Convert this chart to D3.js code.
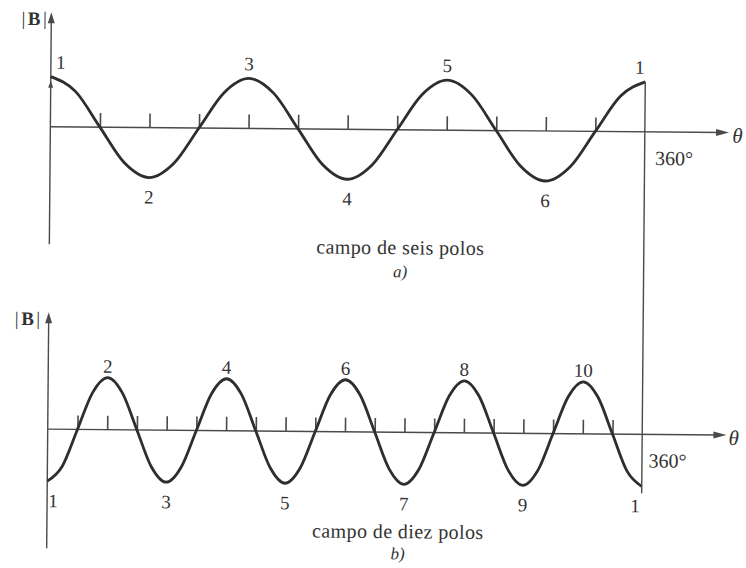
<!DOCTYPE html>
<html>
<head>
<meta charset="utf-8">
<script src="https://cdn.jsdelivr.net/npm/d3@7/dist/d3.min.js"></script>
<style>
  html, body { margin: 0; padding: 0; background: #fff; }
  svg { display: block; }
  text { font-family: "Liberation Serif", "DejaVu Serif", serif; fill: #333; }
</style>
</head>
<body>
<svg id="chart" width="746" height="568"></svg>
<script>
// Air-gap flux density |B| around the stator, 0°..360°

// a) six-pole field: samples every 15°, normalised to the pole peak
const thetaSix = [0, 15, 30, 45, 60, 75, 90, 105, 120, 135, 150, 165, 180,
                  195, 210, 225, 240, 255, 270, 285, 300, 315, 330, 345, 360];
const fieldSix = [1, 0.71, 0, -0.71, -1, -0.71, 0, 0.71, 1, 0.71, 0, -0.71, -1,
                  -0.71, 0, 0.71, 1, 0.71, 0, -0.71, -1, -0.71, 0, 0.71, 1];
const poleAnglesSix = [0, 60, 120, 180, 240, 300, 360];
const poleLabelsSix = ["1", "2", "3", "4", "5", "6", "1"];
const tickAnglesSix = [30, 60, 90, 120, 150, 180, 210, 240, 270, 300, 330];
const captionSix = ["campo de seis polos", "a)"];

// b) ten-pole field: samples every 9°
const thetaTen = [0, 9, 18, 27, 36, 45, 54, 63, 72, 81, 90, 99, 108, 117, 126, 135,
                  144, 153, 162, 171, 180, 189, 198, 207, 216, 225, 234, 243, 252,
                  261, 270, 279, 288, 297, 306, 315, 324, 333, 342, 351, 360];
const fieldTen = [-1, -0.71, 0, 0.71, 1, 0.71, 0, -0.71, -1, -0.71, 0, 0.71, 1, 0.71, 0, -0.71,
                  -1, -0.71, 0, 0.71, 1, 0.71, 0, -0.71, -1, -0.71, 0, 0.71, 1,
                  0.71, 0, -0.71, -1, -0.71, 0, 0.71, 1, 0.71, 0, -0.71, -1];
const poleAnglesTen = [0, 36, 72, 108, 144, 180, 216, 252, 288, 324, 360];
const poleLabelsTen = ["1", "2", "3", "4", "5", "6", "7", "8", "9", "10", "1"];
const tickAnglesTen = [18, 36, 54, 72, 90, 108, 126, 144, 162, 180, 198, 216,
                       234, 252, 270, 288, 306, 324, 342];
const captionTen = ["campo de diez polos", "b)"];

const fullTurn = 360;
const fullTurnLabel = "360°";
const axisReach = 411;   // horizontal axis runs a little past 360°

const svg = d3.select("#chart");
// the printed figure sits very slightly turned on the page
const root = svg.append("g").attr("transform", "rotate(0.5,373,284)");

const ink = "#2e2e2e";
const axisInk = "#4a4a4a";

const x = d3.scaleLinear().domain([0, fullTurn]).range([49, 643.5]);

// arrowhead helper
function arrowHead(g, tipX, tipY, dir, len, half) {
  let pts;
  if (dir === "right") pts = [[tipX, tipY], [tipX - len, tipY - half], [tipX - len, tipY + half]];
  else pts = [[tipX, tipY], [tipX - half, tipY + len], [tipX + half, tipY + len]];
  g.append("path").attr("d", d3.line()(pts) + "Z").attr("fill", axisInk).attr("stroke", "none");
}

function panel(cfg) {
  const g = root.append("g");
  const y = d3.scaleLinear().domain([-1, 1]).range([cfg.yLow, cfg.yHigh]);
  const y0 = y(0);

  // vertical |B| axis
  g.append("line").attr("x1", x(0)).attr("x2", x(0))
    .attr("y1", cfg.vTop + 4).attr("y2", cfg.vBottom)
    .attr("stroke", axisInk).attr("stroke-width", 1.4);
  arrowHead(g, x(0), cfg.vTop, "up", 11, 3.5);

  // horizontal θ axis
  g.append("line").attr("x1", x(0)).attr("x2", x(axisReach) - 6)
    .attr("y1", y0).attr("y2", y0)
    .attr("stroke", axisInk).attr("stroke-width", 1.4);
  arrowHead(g, x(axisReach), y0, "right", 13, 3.5);

  // ticks along the θ axis
  const ax = d3.axisTop(x).tickValues(cfg.ticks).tickSize(14).tickFormat("");
  const axG = g.append("g").attr("transform", `translate(0,${y0})`).call(ax);
  axG.select(".domain").remove();
  axG.selectAll(".tick line").attr("stroke", axisInk).attr("stroke-width", 1.6);

  // flux density wave
  const pts = cfg.theta.map((t, i) => [t, cfg.field[i]]);
  g.append("path")
    .attr("d", d3.line().x(d => x(d[0])).y(d => y(d[1])).curve(d3.curveMonotoneX)(pts))
    .attr("fill", "none").attr("stroke", ink).attr("stroke-width", 2.8)
    .attr("stroke-linejoin", "round");

  // pole numbers
  g.selectAll("text.pole").data(cfg.poles).join("text")
    .attr("class", "pole")
    .attr("font-size", 19)
    .attr("text-anchor", "middle")
    .attr("x", (d, i) => x(d) + (i === 0 ? cfg.firstDx : i === cfg.poles.length - 1 ? cfg.lastDx : 0))
    .attr("y", d => {
      const v = cfg.field[cfg.theta.indexOf(d)];
      return v > 0 ? y(1) - cfg.aboveGap : y(-1) + cfg.belowGap;
    })
    .text((d, i) => cfg.poleLabels[i]);

  // |B| label
  const bl = g.append("text").attr("x", cfg.bX).attr("y", cfg.bY)
    .attr("font-size", 19).attr("text-anchor", "end").attr("letter-spacing", 2.5);
  bl.append("tspan").text("|");
  bl.append("tspan").attr("font-weight", "bold").text("B");
  bl.append("tspan").text("|");

  // θ label
  g.append("text").attr("x", cfg.thetaX).attr("y", y0 + 10)
    .attr("font-size", 21).attr("font-style", "italic").text("θ");

  // 360° mark
  g.append("text").attr("x", x(fullTurn) + cfg.turnDx).attr("y", y0 + 33)
    .attr("font-size", 20).text(fullTurnLabel);

  // caption
  g.append("text").attr("x", 400).attr("y", cfg.capY)
    .attr("font-size", 20).attr("text-anchor", "middle").attr("letter-spacing", 0.4)
    .text(cfg.caption[0]);
  g.append("text").attr("x", 400).attr("y", cfg.capY + cfg.tagGap)
    .attr("font-size", 17).attr("font-style", "italic").attr("text-anchor", "middle")
    .text(cfg.caption[1]);

  return y;
}

const yTop = panel({
  theta: thetaSix, field: fieldSix, poles: poleAnglesSix, poleLabels: poleLabelsSix,
  ticks: tickAnglesSix, caption: captionSix,
  yLow: 179.5, yHigh: 79.5, vTop: 15, vBottom: 247,
  firstDx: 10, lastDx: -5.5, aboveGap: 8, belowGap: 26,
  bX: 47, bY: 28, thetaX: 731, turnDx: 10.5, capY: 254, tagGap: 23
});

const yBot = panel({
  theta: thetaTen, field: fieldTen, poles: poleAnglesTen, poleLabels: poleLabelsTen,
  ticks: tickAnglesTen, caption: captionTen,
  yLow: 484, yHigh: 380, vTop: 315, vBottom: 551,
  firstDx: 6, lastDx: -6.5, aboveGap: 5, belowGap: 26,
  bX: 43, bY: 328, thetaX: 730, turnDx: 6.5, capY: 538, tagGap: 21
});

// 360° line joining both diagrams
root.append("line")
  .attr("x1", x(fullTurn)).attr("x2", x(fullTurn))
  .attr("y1", yTop(1)).attr("y2", yBot(-1) + 7)
  .attr("stroke", axisInk).attr("stroke-width", 1.4);

// small arrow on the upper |B| axis under pole 1
arrowHead(root, x(0), yTop(1) + 4, "up", 7, 2.5);
</script>
</body>
</html>
